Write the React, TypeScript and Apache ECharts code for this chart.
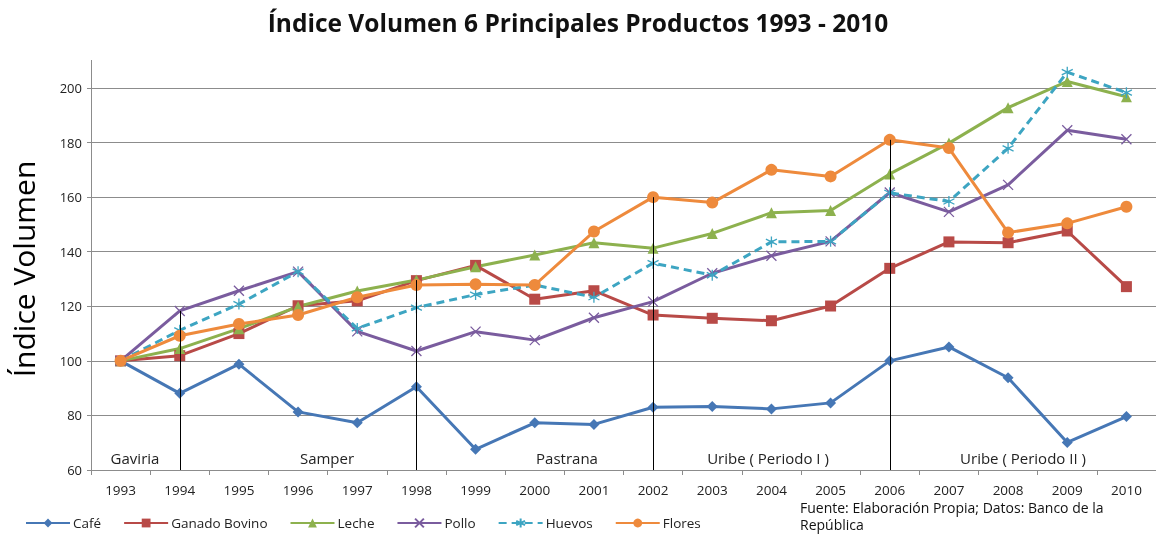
import React, { useEffect, useRef } from "react";
import * as echarts from "echarts";

const years = ["1993","1994","1995","1996","1997","1998","1999","2000","2001","2002","2003","2004","2005","2006","2007","2008","2009","2010"];
const cafe = [100, 88.1, 98.8, 81.3, 77.3, 90.5, 67.6, 77.3, 76.7, 83.0, 83.3, 82.4, 84.6, 100, 105.1, 93.8, 70.1, 79.6];
const ganado = [100, 101.9, 110, 120.2, 122, 129.4, 135, 122.6, 125.7, 116.8, 115.6, 114.7, 120.1, 133.9, 143.6, 143.3, 147.6, 127.2];
const leche = [100, 104.5, 111.8, 119.9, 125.6, 129.6, 134.5, 138.8, 143.3, 141.3, 146.7, 154.3, 155.1, 168.5, 179.8, 192.8, 202.4, 196.8];
const pollo = [100, 118.3, 125.7, 132.7, 110.8, 103.6, 110.7, 107.6, 115.8, 121.7, 132.1, 138.5, 143.8, 161.7, 154.6, 164.5, 184.5, 181.2];
const huevos = [100, 111.2, 120.8, 132.7, 111.9, 119.5, 124.3, 127.8, 123.3, 135.8, 131.4, 143.6, 143.8, 161.6, 158.4, 177.9, 205.8, 198.3];
const flores = [100, 109.2, 113.5, 116.8, 123.3, 127.8, 128.1, 127.8, 147.4, 160, 158, 170, 167.6, 181, 178, 147, 150.4, 156.5];
const periodYears = ["1994", "1998", "2002", "2006"];
const periodNames = ["Gaviria", "Samper", "Pastrana", "Uribe ( Periodo I )", "Uribe ( Periodo II )"];
const yTicks = [60, 80, 100, 120, 140, 160, 180, 200];

const FONT = "'Open Sans', 'Noto Sans', sans-serif";

export default function App() {
  const ref = useRef<HTMLDivElement>(null);
  useEffect(() => {
    if (!ref.current) return;
    const chart = echarts.init(ref.current, null, { renderer: "svg" });
    const all = [cafe, ganado, leche, pollo, huevos, flores];
    const dropData = periodYears.map((y) => {
      const i = years.indexOf(y);
      const top = Math.max(...all.map((s) => s[i]));
      return [{ coord: [y, top] }, { coord: [y, yTicks[0]] }];
    });
    const mk = (name: string, data: number[], color: string, symbol: string, size: number, extra: any = {}) => ({
      name,
      type: "line",
      data,
      clip: false,
      symbol,
      symbolSize: size,
      lineStyle: { color, width: 3, ...(extra.lineStyle || {}) },
      itemStyle: { color, ...(extra.itemStyle || {}) },
      emphasis: { disabled: true },
      ...(extra.rest || {}),
    });
    const periodPos = [135, 327, 567, 768, 1023];
    chart.setOption({
      animation: false,
      textStyle: { fontFamily: FONT },
      title: {
        text: "Índice Volumen 6 Principales Productos 1993 - 2010",
        left: "center",
        top: 5,
        textStyle: { fontFamily: FONT, fontSize: 24.5, fontWeight: "bold", color: "#111" },
      },
      grid: { left: 91, top: 88, width: 1069, height: 382, containLabel: false },
      legend: {
        left: 20,
        top: 511,
        itemWidth: 44,
        itemHeight: 11,
        itemGap: 22,
        textStyle: { fontFamily: FONT, fontSize: 13.5, color: "#222", padding: [0, 0, 0, -2] },
        data: ["Café", "Ganado Bovino", "Leche", "Pollo", "Huevos", "Flores"],
      },
      xAxis: {
        type: "category",
        data: years,
        boundaryGap: true,
        axisLine: { lineStyle: { color: "#8c8c8c", width: 1 } },
        axisTick: { show: true, length: 5, lineStyle: { color: "#8c8c8c" } },
        axisLabel: { fontFamily: FONT, fontSize: 13.5, color: "#222", margin: 13 },
      },
      yAxis: {
        type: "value",
        min: 60,
        max: 200,
        interval: 20,
        name: "Índice Volumen",
        nameLocation: "middle",
        nameGap: 53,
        nameTextStyle: { fontFamily: FONT, fontSize: 30, color: "#000", padding: [0, 0, 0, 20] },
        axisLine: { show: true, lineStyle: { color: "#8c8c8c", width: 1 } },
        axisTick: { show: true, length: 4, lineStyle: { color: "#8c8c8c" } },
        axisLabel: { fontFamily: FONT, fontSize: 13, color: "#222", margin: 9 },
        splitLine: { lineStyle: { color: "#8c8c8c", width: 1 } },
      },
      graphic: [
        { type: "line", shape: { x1: 91.5, y1: 60, x2: 91.5, y2: 88 }, style: { stroke: "#8c8c8c", lineWidth: 1 } },
        ...periodNames.map((n, i) => ({
          type: "text",
          x: periodPos[i],
          y: 458,
          style: { text: n, fontFamily: FONT, fontSize: 15, fill: "#222", textAlign: "center", textVerticalAlign: "middle" },
        })),
        {
          type: "text",
          x: 800,
          y: 499,
          style: {
            text: "Fuente: Elaboración Propia; Datos: Banco de la\nRepública",
            fontFamily: FONT,
            fontSize: 14,
            lineHeight: 17,
            fill: "#111",
          },
        },
      ],
      series: [
        mk("Café", cafe, "#4677B5", "diamond", 11, {
          rest: {
            markLine: {
              silent: true,
              symbol: "none",
              label: { show: false },
              lineStyle: { color: "#000", width: 1, type: "solid" },
              data: dropData,
            },
          },
        }),
        mk("Ganado Bovino", ganado, "#B84A47", "rect", 11),
        mk("Leche", leche, "#8DB14E", "triangle", 11),
        mk("Pollo", pollo, "#7A5C9E", "path://M0,0L10,10M10,0L0,10", 10, {
          itemStyle: { borderColor: "#7A5C9E", borderWidth: 1.3 },
        }),
        mk("Huevos", huevos, "#3DA5C2", "path://M5,0L5,10M0,2.5L10,7.5M0,7.5L10,2.5", 11, {
          lineStyle: { type: [8, 5] },
          itemStyle: { borderColor: "#3DA5C2", borderWidth: 1.3 },
        }),
        mk("Flores", flores, "#EE8A3C", "circle", 12),
      ],
    });
    return () => chart.dispose();
  }, []);
  return <div ref={ref} style={{ position: "fixed", left: 0, top: 0, width: 1156, height: 535 }} />;
}
